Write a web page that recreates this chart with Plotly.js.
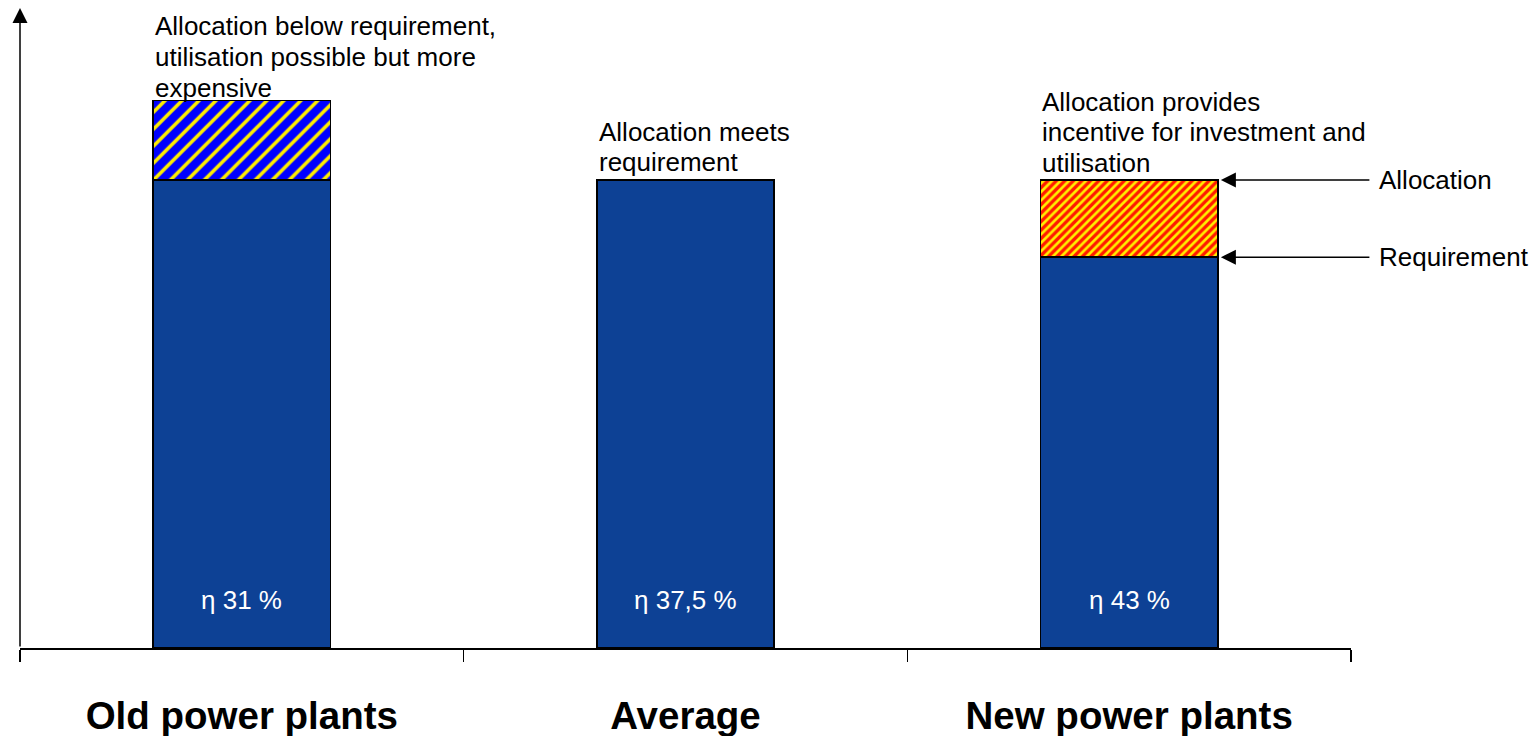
<!DOCTYPE html>
<html>
<head>
<meta charset="utf-8">
<script src="https://cdn.plot.ly/plotly-3.0.1.min.js"></script>
<style>html,body{margin:0;padding:0;background:#fff;}#chart{width:1538px;height:736px;}</style>
</head>
<body>
<div id="chart"></div>
<script>
// ---- data ----
const categories = ['Old power plants', 'Average', 'New power plants'];
const requirement = [117, 100, 83.5];
const allocation = [100, 100, 100];
const efficiencyLabels = ['η 31 %', 'η 37,5 %', 'η 43 %'];
const noteLines = [
  ['Allocation below requirement,', 'utilisation possible but more', 'expensive'],
  ['Allocation meets', 'requirement'],
  ['Allocation provides', 'incentive for investment and', 'utilisation']
];
const legendLabels = ['Allocation', 'Requirement'];

// derived
const base = categories.map((c, i) => Math.min(requirement[i], allocation[i]));
const shortfall = categories.map((c, i) => requirement[i] > allocation[i] ? requirement[i] - allocation[i] : null);
const surplus = categories.map((c, i) => allocation[i] > requirement[i] ? allocation[i] - requirement[i] : null);

const FONT = 'Liberation Sans, Arial, sans-serif';
const edge = {color: '#000', width: 1.5};

const traces = [
  {type: 'bar', x: categories, y: base, marker: {color: '#0d4195', line: edge}, hoverinfo: 'skip'},
  {type: 'bar', x: categories, y: shortfall,
   marker: {color: '#0000ff', line: edge,
            pattern: {shape: '/', bgcolor: '#0000ff', fgcolor: '#ffee00', size: 12, solidity: 0.3, fillmode: 'replace'}},
   hoverinfo: 'skip'},
  {type: 'bar', x: categories, y: surplus,
   marker: {color: '#ff1a00', line: edge,
            pattern: {shape: '/', bgcolor: '#ff1a00', fgcolor: '#ffee00', size: 6, solidity: 0.45, fillmode: 'replace'}},
   hoverinfo: 'skip'}
];

const annotations = [];
// y axis arrow
annotations.push({xref: 'paper', yref: 'paper', x: 0, y: 1, ax: 0, ay: 640, axref: 'pixel', ayref: 'pixel',
  text: '', showarrow: true, arrowhead: 2, arrowsize: 2, arrowwidth: 1.5, arrowcolor: '#000'});

// notes above bars
const noteShift = [-5, 1, 0];
const noteSpacing = [31, 29.5, 30.5];
noteLines.forEach((lines, i) => {
  const top = Math.max(requirement[i], allocation[i]);
  const n = lines.length;
  lines.forEach((ln, k) => {
    annotations.push({xref: 'x', yref: 'y', x: i - 0.2, y: top, xanchor: 'left', yanchor: 'bottom',
      xshift: 0, yshift: noteShift[i] + (n - 1 - k) * noteSpacing[i],
      text: ln, showarrow: false, font: {family: FONT, size: 26, color: '#000'}});
  });
});

// efficiency labels inside bars
efficiencyLabels.forEach((t, i) => {
  annotations.push({xref: 'x', yref: 'y', x: i, y: 0, yanchor: 'middle', yshift: 48,
    text: t, showarrow: false, font: {family: FONT, size: 26, color: '#fff'}});
});

// right-hand pointers
const pointerVals = [allocation[2], requirement[2]];
pointerVals.forEach((v, k) => {
  annotations.push({xref: 'x', yref: 'y', x: 2.2, y: v, ax: 153, ay: 0, axref: 'pixel', ayref: 'pixel',
    text: '', showarrow: true, arrowhead: 2, arrowsize: 2, arrowwidth: 1.5, arrowcolor: '#000', standoff: 3});
  annotations.push({xref: 'x', yref: 'y', x: 2.2, y: v, xanchor: 'left', yanchor: 'middle', xshift: 159,
    text: legendLabels[k], showarrow: false, font: {family: FONT, size: 26, color: '#000'}});
});

const layout = {
  width: 1538, height: 736,
  margin: {l: 20, r: 187, t: 8, b: 88},
  paper_bgcolor: '#fff', plot_bgcolor: '#fff',
  showlegend: false,
  barmode: 'stack', bargap: 0.6,
  font: {family: FONT, color: '#000'},
  xaxis: {type: 'category', range: [-0.5, 2.5], showline: true, linecolor: '#000', linewidth: 1.5,
    ticks: 'outside', tickson: 'boundaries', ticklen: 12, tickwidth: 1.5, tickcolor: '#000',
    tickfont: {family: FONT, size: 38.5, color: '#000', weight: 'bold'}, ticklabelstandoff: 33,
    showgrid: false, zeroline: false, fixedrange: true},
  yaxis: {range: [0, 136.75], showline: false, showgrid: false, zeroline: false, showticklabels: false,
    ticks: '', fixedrange: true},
  annotations: annotations
};

Plotly.newPlot('chart', traces, layout, {displayModeBar: false, staticPlot: true});
</script>
</body>
</html>
